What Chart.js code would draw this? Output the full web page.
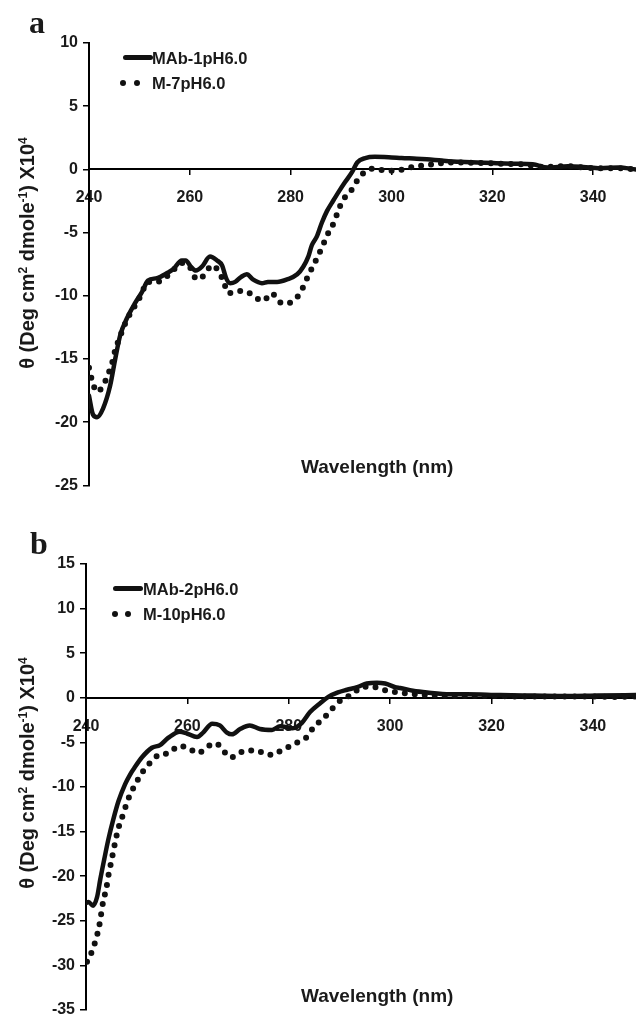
<!DOCTYPE html>
<html>
<head>
<meta charset="utf-8">
<script src="https://cdn.jsdelivr.net/npm/chart.js@4/dist/chart.umd.min.js"></script>
<style>
  html, body { margin: 0; padding: 0; background: #fff; overflow: hidden; width: 636px; height: 1015px; }
  body { position: relative; font-family: "Liberation Sans", Arial, sans-serif; color: #1a1a1a; }
  canvas { position: absolute; left: 0; }
  .txt { position: absolute; font-weight: bold; white-space: nowrap; line-height: 1; }
  .panel { font-family: "Liberation Serif", "Times New Roman", serif; font-size: 32px; }
  .xt { font-size: 19px; }
  .yt { font-size: 20px; transform: translate(-50%, -50%) rotate(-90deg); transform-origin: center; }
  .yt sup { font-size: 12px; vertical-align: 0.55em; line-height: 0; }
  .lg { font-size: 16.5px; }
  .lline { position: absolute; height: 5px; background: #111; border-radius: 2.5px; }
  .ldot { position: absolute; width: 6px; height: 6px; border-radius: 50%; background: #111; }
</style>
</head>
<body>
<canvas id="ca" width="636" height="500" style="top:0"></canvas>
<canvas id="cb" width="636" height="530" style="top:500px"></canvas>

<div class="txt panel" style="left:29px; top:6px;">a</div>
<div class="txt panel" style="left:30px; top:527px;">b</div>

<div class="txt yt" style="left:27px; top:253px;">θ (Deg cm<sup>2</sup> dmole<sup>-1</sup>) X10<sup>4</sup></div>
<div class="txt yt" style="left:27px; top:773px;">θ (Deg cm<sup>2</sup> dmole<sup>-1</sup>) X10<sup>4</sup></div>

<div class="txt xt" style="left:301px; top:457px;">Wavelength (nm)</div>
<div class="txt xt" style="left:301px; top:986px;">Wavelength (nm)</div>

<!-- legend a -->
<div class="lline" style="left:123px; top:55px; width:30px;"></div>
<div class="txt lg" style="left:152px; top:50px;">MAb-1pH6.0</div>
<div class="ldot" style="left:120px; top:80px;"></div>
<div class="ldot" style="left:134px; top:80px;"></div>
<div class="txt lg" style="left:152px; top:75px;">M-7pH6.0</div>
<!-- legend b -->
<div class="lline" style="left:113px; top:586px; width:30px;"></div>
<div class="txt lg" style="left:143px; top:581px;">MAb-2pH6.0</div>
<div class="ldot" style="left:112px; top:611px;"></div>
<div class="ldot" style="left:125px; top:611px;"></div>
<div class="txt lg" style="left:143px; top:606px;">M-10pH6.0</div>

<script>
// ---------- data ----------
const xTicks = [240, 260, 280, 300, 320, 340];
const yTicksA = [10, 5, 0, -5, -10, -15, -20, -25];
const yTicksB = [15, 10, 5, 0, -5, -10, -15, -20, -25, -30, -35];

// Panel a : MAb-1 pH6.0 (solid)
const mab1X = [240,240.8,241.6,242.8,244.2,245.2,246.2,247.5,249.1,250.5,251.7,253.5,255.5,256.7,258.4,259.2,260.2,261.2,262.4,264.0,265.4,266.4,267.2,268.0,269.0,270.2,271.3,272.5,274.3,275.5,277.3,279.3,281.3,282.5,283.5,284.2,285.2,286.2,287.2,288.4,289.8,290.8,292.2,293.2,294.8,296.7,300,302,305,307,310,313.6,317,320.2,324,328,331,335,338,341.4,345,348.5];
const mab1Y = [-17.9,-19.4,-19.6,-18.9,-17.1,-15.0,-13.1,-11.8,-10.6,-9.7,-8.8,-8.6,-8.2,-7.9,-7.2,-7.2,-7.7,-8.0,-7.7,-6.9,-7.2,-7.6,-8.6,-9.0,-8.9,-8.5,-8.3,-8.7,-9.0,-8.9,-8.9,-8.7,-8.3,-7.7,-6.9,-6.0,-5.3,-4.2,-3.3,-2.5,-1.6,-1.0,-0.2,0.55,0.9,1.0,0.95,0.9,0.85,0.8,0.7,0.6,0.55,0.5,0.45,0.4,0.15,0.25,0.2,0.1,0.15,0.0];

// Panel a : M-7 pH6.0 (dotted)
const m7X = [240,240.6,241.6,242.8,243.8,244.6,245.2,246.0,247.5,249.1,250.5,251.5,253.5,255.0,256.4,258.4,260.3,261.3,262.8,264.4,265.8,266.8,267.6,268.8,270.5,271.9,273.3,274.5,276.3,277.5,278.7,280.1,281.5,282.5,283.5,284.5,285.5,286.5,287.5,288.6,289.4,290.4,291.8,293.0,294.4,296.2,298.1,300.3,302.3,304.3,306,308,310,314,318,322,326,330,335,340,345,348.5];
const m7Y = [-15.7,-16.7,-17.6,-17.1,-16.2,-15.3,-14.3,-13.4,-11.9,-10.8,-9.8,-8.9,-8.9,-8.6,-8.1,-7.4,-7.9,-8.7,-8.4,-7.6,-8.1,-9.0,-9.8,-9.7,-9.6,-9.8,-10.2,-10.4,-9.8,-10.4,-10.6,-10.5,-10.0,-9.3,-8.4,-7.6,-6.8,-5.9,-5.0,-4.2,-3.3,-2.4,-1.8,-1.0,-0.3,0.05,-0.05,-0.1,0.0,0.2,0.3,0.4,0.5,0.55,0.5,0.45,0.4,0.2,0.25,0.1,0.1,0.0];

// Panel b : MAb-2 pH6.0 (solid)
const mab2X = [240.0,240.5,241.4,242.2,242.8,243.6,244.4,245.4,246.4,247.7,248.7,249.5,251.0,253.0,254.6,256.2,258.5,259.9,261.9,263.1,264.9,266.4,267.8,268.8,270.4,272.3,274.3,276.7,278.3,280.8,282.6,284.2,286.2,287.8,289.7,291.5,293.5,295.4,297.4,299.0,301.0,302.0,304.5,307.3,311.8,315.1,321.7,328,334.9,341,348.5];
const mab2Y = [-23.0,-22.9,-23.3,-22.3,-20.4,-18.1,-15.9,-13.6,-11.6,-9.7,-8.6,-7.9,-6.7,-5.6,-5.3,-4.5,-3.8,-4.0,-4.4,-3.9,-2.9,-3.1,-3.9,-4.1,-3.5,-3.1,-3.5,-3.6,-3.2,-3.4,-2.8,-1.6,-0.6,0.1,0.6,0.9,1.2,1.6,1.7,1.6,1.2,1.1,0.8,0.6,0.4,0.4,0.3,0.25,0.2,0.25,0.3];

// Panel b : M-10 pH6.0 (dotted)
const m10X = [240.2,241.2,242.0,242.6,243.0,243.4,244.0,244.4,244.9,245.4,245.9,246.5,247.3,248.1,249.0,250.0,251.3,252.8,254.4,256.4,258.3,260.1,262.1,263.9,265.6,267.2,268.6,270.2,271.8,273.7,275.3,276.9,278.5,280.0,281.7,283.4,284.8,286.4,287.9,289.5,291.1,292.7,294.5,296.5,298.6,300.8,303,306,310,315,320,325,330,335,340,345,348.5];
const m10Y = [-29.6,-28.4,-27.0,-25.6,-24.2,-22.8,-21.4,-20.0,-18.6,-17.2,-15.8,-14.4,-13.1,-11.7,-10.5,-9.4,-8.2,-7.2,-6.4,-6.2,-5.4,-5.6,-6.2,-5.5,-5.1,-6.0,-6.7,-6.2,-5.9,-5.9,-6.3,-6.4,-5.9,-5.5,-5.0,-4.5,-3.4,-2.5,-1.7,-0.6,-0.05,0.5,1.2,1.25,0.9,0.65,0.5,0.35,0.25,0.2,0.2,0.15,0.15,0.15,0.15,0.1,0.15];

// ---------- helpers ----------
const pts = (xs, ys) => xs.map((x, i) => ({ x: x, y: ys[i] }));
const TICK_FONT = { family: '"Liberation Sans", Arial, sans-serif', size: 16, weight: 'bold' };
const INK = '#1a1a1a';

function solidSet(label, xs, ys) {
  return { label, data: pts(xs, ys), borderColor: '#111', borderWidth: 4.5,
    pointRadius: 0, cubicInterpolationMode: 'monotone', borderCapStyle: 'round', borderJoinStyle: 'round', order: 1 };
}
function dotSet(label, xs, ys) {
  return { label, data: pts(xs, ys), borderColor: '#111', borderWidth: 6,
    borderDash: [0, 10], borderCapStyle: 'round', pointRadius: 0,
    cubicInterpolationMode: 'monotone', order: 2 };
}

function makeChart(id, datasets, yMin, yMax, yTicks, axisLeft, padTop, padBottom) {
  return new Chart(document.getElementById(id), {
    type: 'line',
    data: { datasets },
    options: {
      responsive: false, animation: false, devicePixelRatio: 1,
      layout: { padding: { top: padTop, bottom: padBottom, left: 0, right: 0 } },
      plugins: { legend: { display: false }, tooltip: { enabled: false } },
      scales: {
        x: {
          type: 'linear', min: 240, max: 348.5, position: { y: 0 },
          afterBuildTicks: s => { s.ticks = xTicks.map(v => ({ value: v })); },
          grid: { display: true, drawOnChartArea: false, drawTicks: true, tickLength: 5, color: '#000', lineWidth: 1.5 },
          border: { display: true, color: '#000', width: 2 },
          ticks: { color: INK, font: TICK_FONT, padding: 14, maxRotation: 0, autoSkip: false }
        },
        y: {
          type: 'linear', min: yMin, max: yMax, position: 'left',
          afterBuildTicks: s => { s.ticks = yTicks.map(v => ({ value: v })); },
          afterFit: s => { s.width = axisLeft; },
          grid: { display: true, drawOnChartArea: false, drawTicks: true, tickLength: 6, color: '#000', lineWidth: 1.5 },
          border: { display: true, color: '#000', width: 2 },
          ticks: { color: INK, font: TICK_FONT, padding: 5, autoSkip: false }
        }
      }
    }
  });
}

makeChart('ca', [solidSet('MAb-1pH6.0', mab1X, mab1Y), dotSet('M-7pH6.0', m7X, m7Y)],
  -25, 10, yTicksA, 89, 43, 13);
makeChart('cb', [solidSet('MAb-2pH6.0', mab2X, mab2Y), dotSet('M-10pH6.0', m10X, m10Y)],
  -35, 15, yTicksB, 86, 64, 20);
</script>
</body>
</html>
